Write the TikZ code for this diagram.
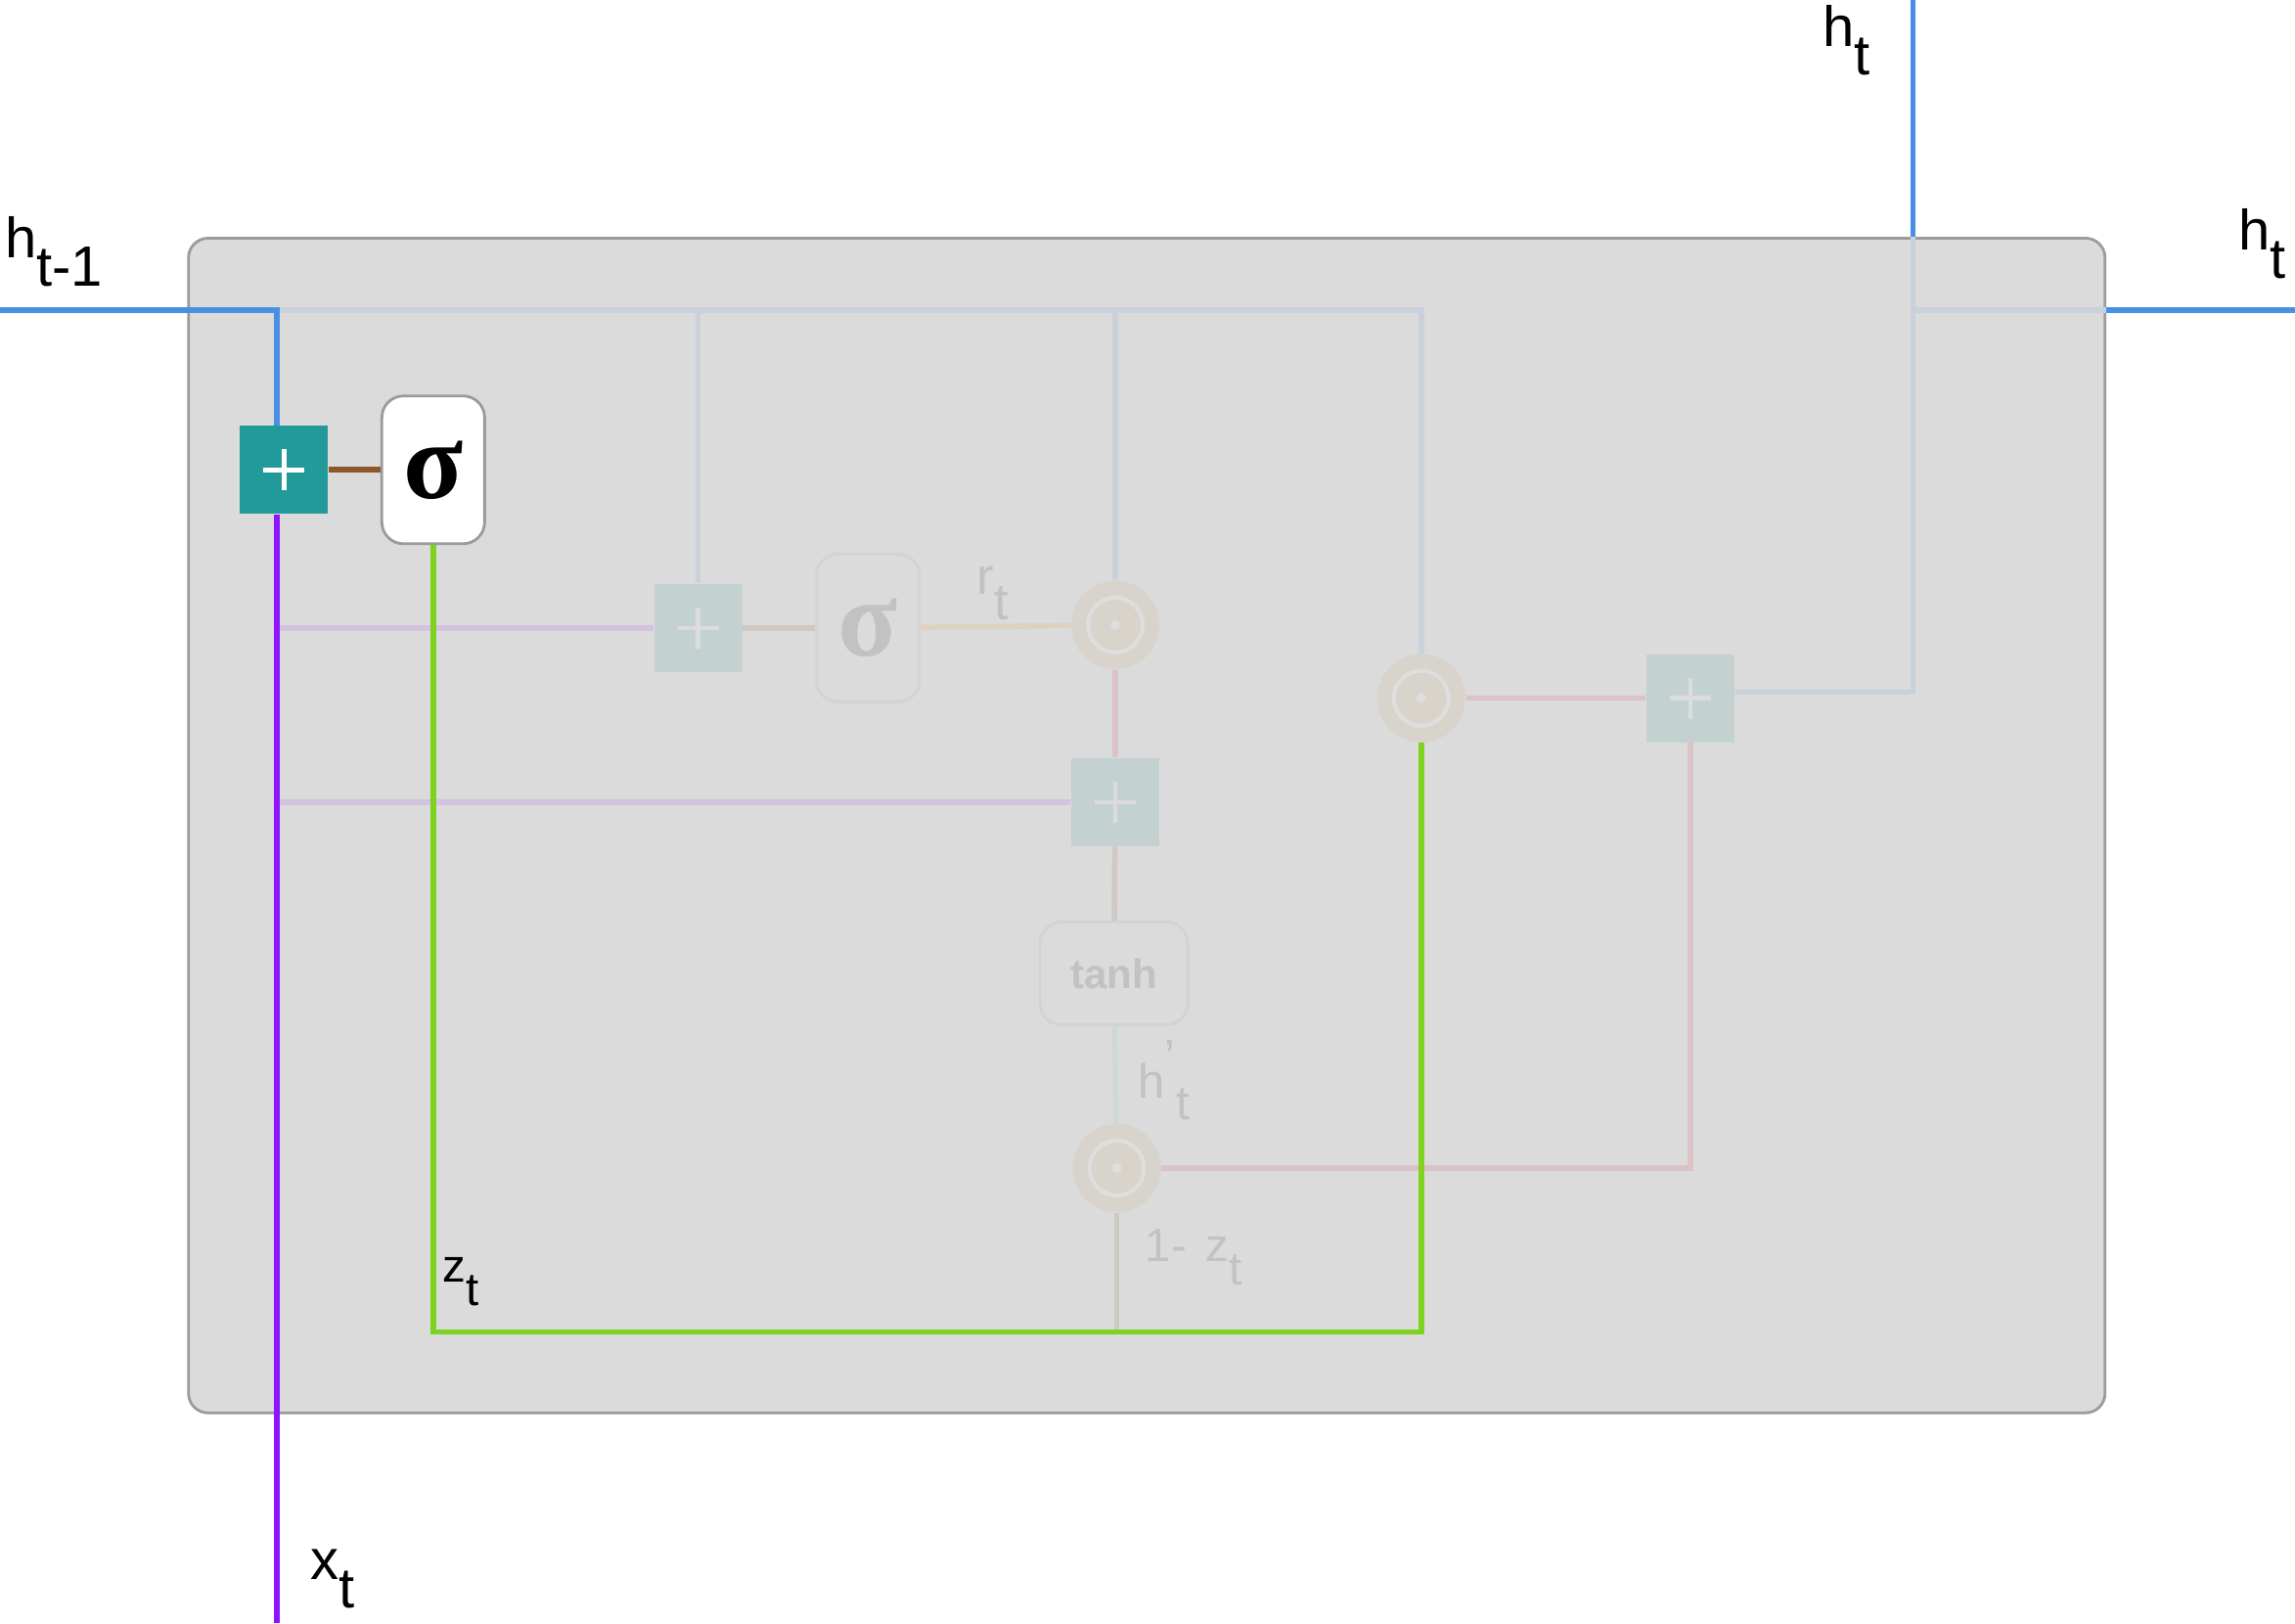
\documentclass[tikz,border=0pt]{standalone}
\usepackage{fontspec}
\setmainfont{Liberation Sans}
\newfontfamily\sigfont{Liberation Serif}
\usepackage{tikz}

\definecolor{bg}{HTML}{DBDBDB}
\definecolor{gborder}{HTML}{9B9B9B}
\definecolor{hblue}{HTML}{4A90E2}
\definecolor{xpurple}{HTML}{9013FE}
\definecolor{zgreen}{HTML}{7ED321}
\definecolor{tealc}{HTML}{239A9A}
\definecolor{brownc}{HTML}{8B572A}
\definecolor{fblue}{HTML}{C9D1DA}
\definecolor{fpurple}{HTML}{D3C3DE}
\definecolor{fteal}{HTML}{C4D1D1}
\definecolor{fsign}{HTML}{DCDCDC}
\definecolor{fborder}{HTML}{D3D3D3}
\definecolor{ftext}{HTML}{C2C2C2}
\definecolor{fbrown}{HTML}{D1C8C3}
\definecolor{fbeige}{HTML}{DDD2C2}
\definecolor{odfill}{HTML}{D8D3CB}
\definecolor{odring}{HTML}{DEDEDE}
\definecolor{fpink}{HTML}{DAC3C6}
\definecolor{fmint}{HTML}{CDD9D6}
\definecolor{fsage}{HTML}{CACCC1}

\newcommand{\lsub}[2]{#1\raisebox{-0.5em}{#2}}

\begin{document}
\begin{tikzpicture}[x=0.01496cm,y=-0.01496cm,
		lw/.style={line width=1.6pt},
		addbox/.style 2 args={rectangle,minimum size=0.9cm,inner sep=0pt,fill=#1,
			path picture={\draw[#2,line width=1.3pt]
				([xshift=-0.21cm]path picture bounding box.center) -- ([xshift=0.21cm]path picture bounding box.center)
				([yshift=-0.21cm]path picture bounding box.center) -- ([yshift=0.21cm]path picture bounding box.center);}},
		gatebox/.style={rectangle,rounded corners=0.22cm,minimum width=1.05cm,minimum height=1.51cm,inner sep=0pt,line width=0.8pt},
		odot/.style={circle,minimum size=0.9cm,inner sep=0pt,fill=odfill,
			path picture={\draw[odring,line width=1.2pt] (path picture bounding box.center) circle (0.28cm);
				\fill[odring] (path picture bounding box.center) circle (0.05cm);}},
		lab/.style={inner sep=0pt,anchor=base west},
		big/.style={font=\fontsize{16.5}{16.5}\selectfont},
		faint/.style={text=ftext,font=\fontsize{14}{14}\selectfont}]
	\useasboundingbox (0,0) rectangle (1568,1109);
	\node[draw=gborder,fill=bg,line width=0.8pt,rounded corners=0.2cm,minimum width=19.58cm,minimum height=12cm,inner sep=0pt] (cell) at (783.5,564) {};
	
	\coordinate (hin) at (0,212);
	\coordinate (hs) at (189,212);
	\coordinate (xin) at (189,1109);
	\coordinate (hup) at (1307,0);
	\coordinate (hout) at (1568,212);
	\coordinate (zbot) at (500,910);
	
	\node[addbox={tealc}{white}] (addz) at (194,321) {};
	\node[gatebox,draw=gborder,fill=white] (sigz) at (296,321) {\sigfont\bfseries\fontsize{32}{32}\selectfont σ};
	\node[addbox={fteal}{fsign}] (addr) at (477,429) {};
	\node[gatebox,draw=fborder,fill=bg,text=ftext] (sigr) at (593,429) {\sigfont\bfseries\fontsize{32}{32}\selectfont σ};
	\node[odot] (mulr) at (762,427) {};
	\node[addbox={fteal}{fsign}] (addh) at (762,548) {};
	\node[gatebox,draw=fborder,fill=bg,text=ftext,minimum width=1.51cm,minimum height=1.05cm,font=\fontsize{12}{12}\selectfont\bfseries] (tanh) at (761,665) {tanh};
	\node[odot] (mulh) at (763,798) {};
	\node[odot] (mulz) at (971,477) {};
	\node[addbox={fteal}{fsign}] (addo) at (1155,477) {};
	
	% faded part of the cell
	\draw[lw,fblue] (hs) -- (mulz.north |- hs) -- (mulz.north);
	\draw[lw,fblue] (addr.north |- hs) -- (addr.north);
	\draw[lw,fblue] (mulr.north |- hs) -- (mulr.north);
	\draw[lw,fpurple] (addr.west -| hs) -- (addr.west);
	\draw[lw,fpurple] (addh.west -| hs) -- (addh.west);
	\draw[lw,fbrown] (addr) -- (sigr);
	\draw[lw,fbeige] (sigr) -- (mulr);
	\draw[lw,fpink] (mulr) -- (addh);
	\draw[lw,fbrown] (addh) -- (tanh);
	\draw[lw,fmint] (tanh) -- (mulh);
	\draw[lw,fsage] (mulh.south) -- (mulh.south |- zbot);
	\draw[lw,fpink] (mulh.east) -- (mulh.east -| addo.south) -- (addo.south);
	\draw[lw,fpink] (mulz) -- (addo);
	\draw[lw,fblue] ([yshift=0.06cm]addo.east) -- ([yshift=0.06cm]addo.east -| hup) -- (hup |- cell.north);
	\draw[lw,fblue] (hup |- hs) -- (cell.east |- hs);
	
	% update gate
	\draw[lw,hblue] (hin) -- (hs) -- (hs |- addz.north);
	\draw[lw,xpurple] (hs |- addz.south) -- (xin);
	\draw[lw,brownc] (addz) -- (sigz);
	\draw[lw,zgreen] (sigz.south) -- (sigz.south |- zbot) -- (mulz.south |- zbot) -- (mulz.south);
	\draw[lw,hblue] (hup |- cell.north) -- (hup);
	\draw[lw,hblue] (cell.east |- hs) -- (hout);
	
	\node[lab,big] (lhprev) at (3,176) {\lsub{h}{t-1}};
	\node[lab,big] (lhtop) at (1245,32) {\lsub{h}{t}};
	\node[lab,big] (lhout) at (1529,171) {\lsub{h}{t}};
	\node[lab,big] (lx) at (212,1079) {\lsub{x}{t}};
	\node[lab,font=\fontsize{13.5}{13.5}\selectfont] (lz) at (302,876) {\lsub{z}{t}};
	\node[lab,faint,font=\fontsize{15}{15}\selectfont] (lr) at (667,406) {\lsub{r}{t}};
	\node[lab,faint] (lhc) at (777,750) {h\rlap{\raisebox{0.5em}{’}}\hspace{0.25em}\raisebox{-0.46em}{t}};
	\node[lab,faint,font=\fontsize{13.5}{13.5}\selectfont] (lzc) at (782,862) {\lsub{1-\hspace{0.42em}z}{t}};
\end{tikzpicture}
\end{document}
